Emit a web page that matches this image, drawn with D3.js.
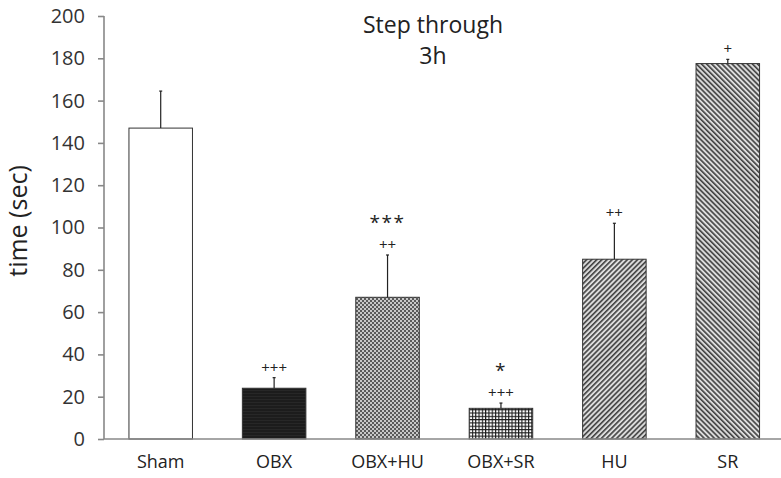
<!DOCTYPE html>
<html>
<head>
<meta charset="utf-8">
<script src="https://cdn.jsdelivr.net/npm/d3@7"></script>
<style>
  body { margin: 0; background: #fff; }
  svg { display: block; font-family: "Open Sans", sans-serif; }
</style>
</head>
<body>
<svg id="chart" width="781" height="478"></svg>
<script>
const groups = ['Sham', 'OBX', 'OBX+HU', 'OBX+SR', 'HU', 'SR'];
const means = [147, 24, 67, 14.5, 85, 177.5];
const errors = [17.5, 5, 20, 2.5, 17, 2];
const marksTop = ['', '', '***', '*', '', ''];
const marksBottom = ['', '+++', '++', '+++', '++', '+'];
const fills = ['white', 'url(#p-obx)', 'url(#p-obxhu)', 'url(#p-obxsr)', 'url(#p-hu)', 'url(#p-sr)'];
const yTicks = [0, 20, 40, 60, 80, 100, 120, 140, 160, 180, 200];

const svg = d3.select('#chart');
const margin = { top: 16, left: 104, bottom: 39 };
const height = 478;

const x = d3.scaleBand()
  .domain(groups)
  .range([104, 784.5])
  .paddingInner(0.44)
  .paddingOuter(0.22);

const y = d3.scaleLinear()
  .domain([0, 200])
  .range([height - margin.bottom, margin.top]);

// hatch patterns
const defs = svg.append('defs');

const pObx = defs.append('pattern').attr('id', 'p-obx')
  .attr('width', 3).attr('height', 3).attr('patternUnits', 'userSpaceOnUse');
pObx.append('rect').attr('width', 3).attr('height', 3).attr('fill', '#1c1c1c');
pObx.append('rect').attr('width', 3).attr('height', 0.6).attr('fill', '#2e2e2e');

const pHu = defs.append('pattern').attr('id', 'p-obxhu')
  .attr('width', 4).attr('height', 4).attr('patternUnits', 'userSpaceOnUse');
pHu.append('rect').attr('width', 4).attr('height', 4).attr('fill', '#5a5a5a');
pHu.append('rect').attr('width', 2).attr('height', 2).attr('fill', '#c8c8c8');
pHu.append('rect').attr('x', 2).attr('y', 2).attr('width', 2).attr('height', 2).attr('fill', '#c8c8c8');

const pSr = defs.append('pattern').attr('id', 'p-obxsr')
  .attr('width', 3.3).attr('height', 3.3).attr('patternUnits', 'userSpaceOnUse');
pSr.append('rect').attr('width', 3.3).attr('height', 3.3).attr('fill', '#1a1a1a');
pSr.append('rect').attr('x', 1.1).attr('y', 1.1).attr('width', 2.2).attr('height', 2.2).attr('fill', '#fff');

[['p-hu', 45], ['p-sr', -45]].forEach(([id, rot]) => {
  const p = defs.append('pattern').attr('id', id)
    .attr('width', 3.6).attr('height', 3.6)
    .attr('patternUnits', 'userSpaceOnUse')
    .attr('patternTransform', `rotate(${rot})`);
  p.append('rect').attr('width', 3.6).attr('height', 3.6).attr('fill', '#dcdcdc');
  p.append('rect').attr('width', 1.6).attr('height', 3.6).attr('fill', '#404040');
});

// bars
svg.append('g').selectAll('rect')
  .data(groups)
  .join('rect')
    .attr('x', d => x(d))
    .attr('y', (d, i) => y(means[i]))
    .attr('width', x.bandwidth())
    .attr('height', (d, i) => y(0) - y(means[i]))
    .attr('fill', (d, i) => fills[i])
    .attr('stroke', '#333')
    .attr('stroke-width', 1);

// error bars
const err = svg.append('g').attr('stroke', '#222').attr('stroke-width', 1.2);
groups.forEach((g, i) => {
  const cx = x(g) + x.bandwidth() / 2;
  err.append('line')
    .attr('x1', cx).attr('x2', cx)
    .attr('y1', y(means[i])).attr('y2', y(means[i] + errors[i]));
  err.append('line')
    .attr('x1', cx - 1.5).attr('x2', cx + 1.5)
    .attr('y1', y(means[i] + errors[i])).attr('y2', y(means[i] + errors[i]));
});

// significance marks
const marks = svg.append('g').attr('text-anchor', 'middle').attr('fill', '#222');
groups.forEach((g, i) => {
  const cx = x(g) + x.bandwidth() / 2;
  const top = y(means[i] + errors[i]);
  if (marksBottom[i]) {
    marks.append('text')
      .attr('x', cx).attr('y', top - 5)
      .attr('font-size', 15)
      .text(marksBottom[i]);
  }
  if (marksTop[i]) {
    marks.append('text')
      .attr('x', cx).attr('y', top - 26)
      .attr('font-size', 19)
      .attr('letter-spacing', 1.5)
      .text(marksTop[i]);
  }
});

// axes
const yAxis = svg.append('g')
  .attr('transform', `translate(${margin.left},0)`)
  .call(d3.axisLeft(y).tickValues(yTicks).tickSize(6).tickPadding(13));
yAxis.selectAll('path, line').attr('stroke', '#888').attr('stroke-width', 1.6);
yAxis.select('.domain').attr('d', `M0,${y(200)}V${y(0)}`);
yAxis.selectAll('text').attr('font-size', 20).attr('fill', '#333')
  .attr('font-family', '"Open Sans", sans-serif');

const xAxis = svg.append('g')
  .attr('transform', `translate(0,${y(0)})`)
  .call(d3.axisBottom(x).tickSize(0).tickPadding(16));
xAxis.select('.domain').attr('d', `M${margin.left},0H781`)
  .attr('stroke', '#888').attr('stroke-width', 1.6);
xAxis.selectAll('text').attr('font-size', 18).attr('fill', '#222')
  .attr('font-family', '"Open Sans", sans-serif');

// title
svg.append('text')
  .attr('x', 433).attr('y', 33)
  .attr('text-anchor', 'middle')
  .attr('font-size', 23).attr('fill', '#222')
  .text('Step through');
svg.append('text')
  .attr('x', 433).attr('y', 64)
  .attr('text-anchor', 'middle')
  .attr('font-size', 23).attr('fill', '#222')
  .text('3h');

// y label
svg.append('text')
  .attr('transform', 'translate(27,221) rotate(-90)')
  .attr('text-anchor', 'middle')
  .attr('font-size', 25).attr('fill', '#222')
  .text('time (sec)');
</script>
</body>
</html>
